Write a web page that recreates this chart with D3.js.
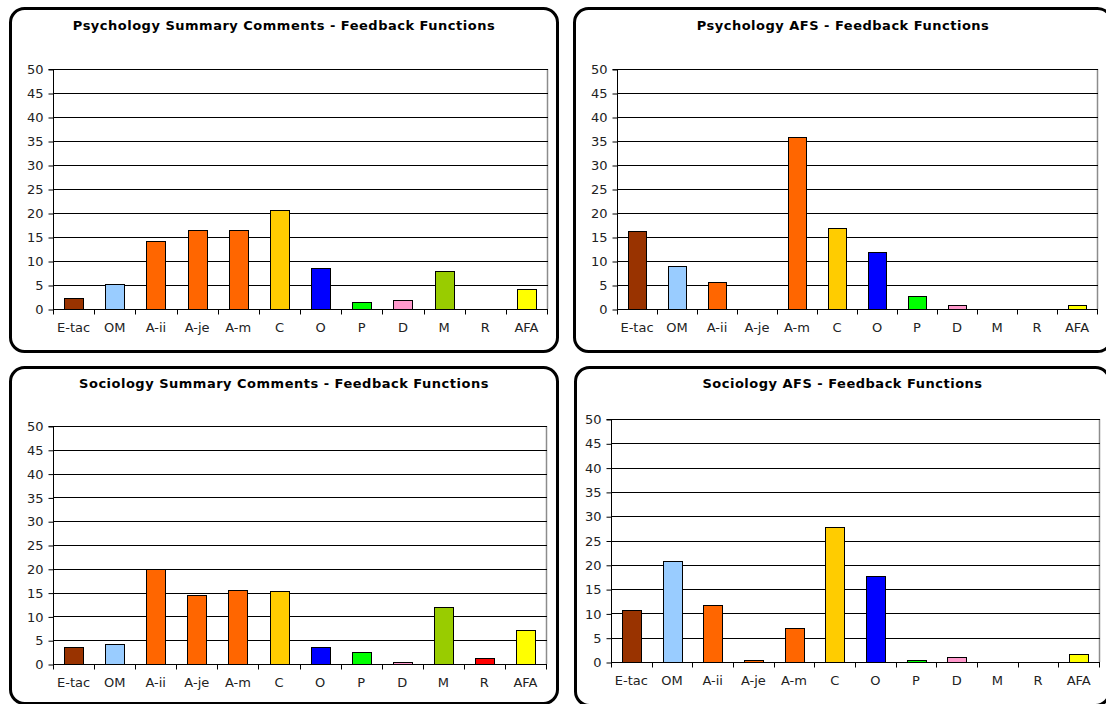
<!DOCTYPE html>
<html>
<head>
<meta charset="utf-8">
<script src="https://cdn.jsdelivr.net/npm/d3@7"></script>
<style>
  html, body { margin: 0; padding: 0; background: #fff; }
  svg { display: block; }
</style>
</head>
<body>
<svg id="chart" width="1106" height="704"></svg>
<script>
// ---------- data ----------
const categories = ["E-tac", "OM", "A-ii", "A-je", "A-m", "C", "O", "P", "D", "M", "R", "AFA"];
const barColors = ["#993300", "#99CCFF", "#FF6600", "#FF6600", "#FF6600", "#FFCC00",
                   "#0000FF", "#00FF00", "#FF99CC", "#99CC00", "#FF0000", "#FFFF00"];
const yTicks = [0, 5, 10, 15, 20, 25, 30, 35, 40, 45, 50];

const titles = [
  "Psychology Summary Comments - Feedback Functions",
  "Psychology AFS - Feedback Functions",
  "Sociology Summary Comments - Feedback Functions",
  "Sociology AFS - Feedback Functions"
];
const psychSummary = [2.2, 5.2, 14.2, 16.5, 16.5, 20.7, 8.5, 1.5, 1.9, 8.0, 0, 4.2];
const psychAFS     = [16.2, 9.0, 5.7, 0, 35.8, 16.9, 11.9, 2.7, 0.8, 0, 0, 0.8];
const socSummary   = [3.5, 4.2, 20.0, 14.4, 15.5, 15.3, 3.5, 2.5, 0.5, 12.0, 1.2, 7.2];
const socAFS       = [10.8, 20.8, 11.8, 0.5, 6.9, 27.7, 17.7, 0.5, 1.0, 0, 0, 1.7];
const seriesList = [psychSummary, psychAFS, socSummary, socAFS];

// ---------- layout ----------
const panels = [
  { box: [10.5, 8.5, 547, 343], plot: [53, 69, 547, 309], titleY: 30 },
  { box: [574.5, 8.5, 537, 343], plot: [617, 69, 1097, 309], titleY: 30 },
  { box: [10.5, 367.5, 547, 336], plot: [53, 426, 546, 664], titleY: 388 },
  { box: [575.5, 367.5, 534, 338], plot: [611, 419, 1099, 662], titleY: 388 }
];

const svg = d3.select("#chart");
const FONT = "'DejaVu Sans', Verdana, sans-serif";

panels.forEach((p, i) => {
  const g = svg.append("g");
  const [bx, by, bw, bh] = p.box;
  g.append("rect")
    .attr("x", bx).attr("y", by).attr("width", bw).attr("height", bh)
    .attr("rx", 14).attr("ry", 14)
    .attr("fill", "#fff").attr("stroke", "#000").attr("stroke-width", 3);

  g.append("text")
    .attr("x", bx + bw / 2).attr("y", p.titleY)
    .attr("text-anchor", "middle")
    .attr("font-family", FONT).attr("font-weight", "bold").attr("font-size", 13)
    .attr("letter-spacing", 0.5)
    .attr("fill", "#000")
    .text(titles[i]);

  const [x0, y0, x1, y1] = p.plot;
  const x = d3.scaleBand().domain(categories).range([x0, x1]).padding(0);
  const y = d3.scaleLinear().domain([0, 50]).range([y1, y0]);

  // plot area border (right side grey)
  g.append("line")
    .attr("x1", x1 + 0.5).attr("x2", x1 + 0.5).attr("y1", y0).attr("y2", y1)
    .attr("stroke", "#8c8c8c").attr("stroke-width", 1.5);

  // gridlines
  g.append("g").selectAll("line").data(yTicks.filter(t => t > 0)).join("line")
    .attr("x1", x0).attr("x2", x1 + 1)
    .attr("y1", d => Math.round(y(d)) + 0.5).attr("y2", d => Math.round(y(d)) + 0.5)
    .attr("stroke", "#000").attr("stroke-width", 1);

  // bars
  const bw2 = x.bandwidth() * 0.46;
  g.append("g").selectAll("rect").data(seriesList[i]).join("rect")
    .attr("x", (d, k) => Math.round(x(categories[k]) + (x.bandwidth() - bw2) / 2) + 0.5)
    .attr("width", Math.round(bw2))
    .attr("y", d => Math.round(y(d)) + 0.5)
    .attr("height", d => Math.max(0, Math.round(y(0)) - Math.round(y(d))))
    .attr("fill", (d, k) => barColors[k])
    .attr("stroke", "#000").attr("stroke-width", 1)
    .attr("display", d => d > 0 ? null : "none");

  // y axis
  const yAxis = d3.axisLeft(y).tickValues(yTicks).tickSize(5).tickPadding(5).tickFormat(d3.format("d"));
  const ya = g.append("g").attr("transform", `translate(${x0 + 0.5},0.5)`).call(yAxis);
  ya.selectAll("path").attr("stroke", "#000").attr("d", `M-5,${y(50)}H0V${y(0)}`);
  ya.selectAll("line").attr("stroke", "#000");
  ya.selectAll("text").attr("font-family", FONT).attr("font-size", 13).attr("fill", "#222");

  // x axis: labels centered, ticks at band boundaries
  const xAxis = d3.axisBottom(x).tickSize(0).tickPadding(13);
  const xa = g.append("g").attr("transform", `translate(0,${Math.round(y(0)) + 0.5})`).call(xAxis);
  xa.selectAll("path").attr("stroke", "#000").attr("d", `M${x0},0H${x1 + 1}`);
  xa.selectAll("text").attr("font-family", FONT).attr("font-size", 13).attr("fill", "#222");
  const bounds = categories.map(c => x(c)).concat([x1]);
  xa.append("g").selectAll("line").data(bounds).join("line")
    .attr("x1", d => Math.round(d) + 0.5).attr("x2", d => Math.round(d) + 0.5)
    .attr("y1", 0).attr("y2", 5)
    .attr("stroke", "#000");
});
</script>
</body>
</html>
